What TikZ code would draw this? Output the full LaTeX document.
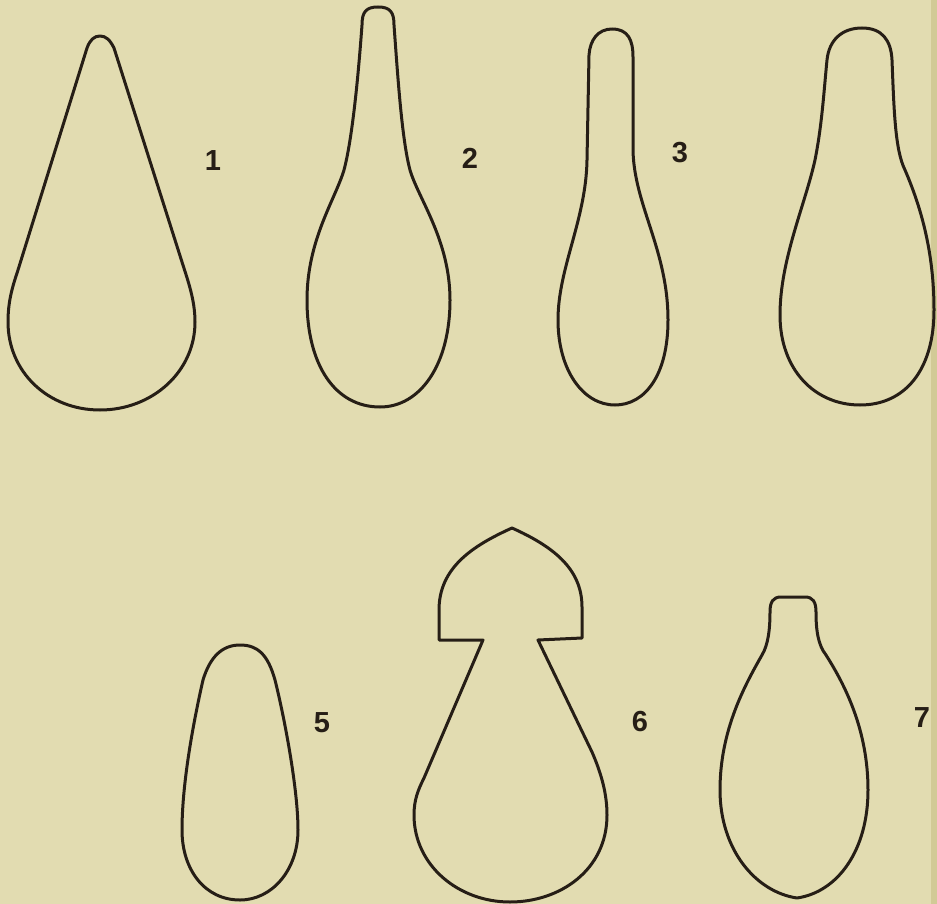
\documentclass[tikz,border=0pt]{standalone}
\usepackage{fontspec}
\setmainfont{Liberation Sans}
\definecolor{paper}{RGB}{226,220,177}
\definecolor{paperedge}{RGB}{210,202,150}
\definecolor{ink}{RGB}{38,30,22}
\begin{document}
\begin{tikzpicture}[x=1pt,y=-1pt,
  outline/.style={draw=ink,line width=3pt,line join=round},
  numlabel/.style={text=ink,font=\fontsize{29}{30}\selectfont\bfseries,inner sep=0pt}]
% sheet
\fill[paper] (0,0) rectangle (937,904);
\fill[paperedge] (931,0) rectangle (937,904);
\useasboundingbox (0,0) rectangle (937,904);

% figure 1: plain pear drop
\draw[outline] (100,36) .. controls (106,36) and (110,40) .. (114,48)
  -- (182,262) .. controls (188,281) and (195,300) .. (195,322)
  .. controls (195,372) and (152,410) .. (100,410)
  .. controls (48,410) and (8,372) .. (8,322)
  .. controls (8,302) and (12,288) .. (18,270)
  -- (87,48) .. controls (90,40) and (94,36) .. (100,36) -- cycle;
\node[numlabel] (l1) at (213,161) {1};

% figure 2: long narrow neck
\draw[outline] (378,7) .. controls (390,7) and (394,12) .. (394,25)
  .. controls (398,80) and (402,140) .. (410,170)
  .. controls (418,198) and (450,240) .. (450,300)
  .. controls (450,365) and (420,407) .. (380,407)
  .. controls (335,407) and (307,365) .. (307,300)
  .. controls (307,240) and (335,200) .. (344,170)
  .. controls (352,140) and (358,80) .. (362,25)
  .. controls (362,12) and (366,7) .. (378,7) -- cycle;
\node[numlabel] (l2) at (470,158) {2};

% figure 3: straight handle, small bulb
\draw[outline] (612,29) .. controls (628,29) and (633,40) .. (633,57)
  -- (633,150) .. controls (634,205) and (668,250) .. (668,320)
  .. controls (668,375) and (645,405) .. (615,405)
  .. controls (583,405) and (558,370) .. (558,320)
  .. controls (558,268) and (586,220) .. (587,160)
  -- (589,55) .. controls (590,40) and (598,29) .. (612,29) -- cycle;
\node[numlabel] (l3) at (680,153) {3};

% figure 4: broad neck, wide bulb
\draw[outline] (862,28) .. controls (882,28) and (891,40) .. (892,60)
  .. controls (894,110) and (895,150) .. (905,170)
  .. controls (920,205) and (934,250) .. (934,310)
  .. controls (934,370) and (905,405) .. (860,405)
  .. controls (815,405) and (780,370) .. (780,315)
  .. controls (780,260) and (805,205) .. (815,160)
  .. controls (822,125) and (824,90) .. (827,60)
  .. controls (829,40) and (842,28) .. (862,28) -- cycle;

% figure 5: short oval drop
\draw[outline] (240,645) .. controls (258,645) and (268,655) .. (275,680)
  .. controls (285,720) and (298,790) .. (298,830)
  .. controls (298,870) and (272,900) .. (240,900)
  .. controls (205,900) and (182,870) .. (182,830)
  .. controls (182,780) and (195,715) .. (203,680)
  .. controls (210,657) and (222,645) .. (240,645) -- cycle;
\node[numlabel] (l5) at (322,723) {5};

% figure 6: pointed cap on a tapering body
\draw[outline] (483,640) -- (439,640) -- (439,610)
  .. controls (439,568) and (472,546) .. (512,528)
  .. controls (552,546) and (582,568) .. (582,607)
  -- (582,638) -- (538,640) -- (592,752)
  .. controls (602,775) and (607,795) .. (607,815)
  .. controls (607,870) and (560,902) .. (510,902)
  .. controls (458,902) and (414,865) .. (414,815)
  .. controls (414,800) and (418,790) .. (424,778)
  -- cycle;
\node[numlabel] (l6) at (640,722) {6};

% figure 7: short flat-topped neck
\draw[outline] (793,597) -- (805,597) .. controls (813,597) and (816,602) .. (816,612)
  .. controls (816,630) and (818,645) .. (826,655)
  .. controls (845,685) and (868,730) .. (868,790)
  .. controls (868,850) and (838,892) .. (797,898)
  .. controls (756,892) and (720,850) .. (720,790)
  .. controls (720,730) and (745,685) .. (762,655)
  .. controls (768,645) and (770,630) .. (770,612)
  .. controls (770,602) and (773,597) .. (781,597) -- cycle;
\node[numlabel] (l7) at (922,718) {7};
\end{tikzpicture}
\end{document}
